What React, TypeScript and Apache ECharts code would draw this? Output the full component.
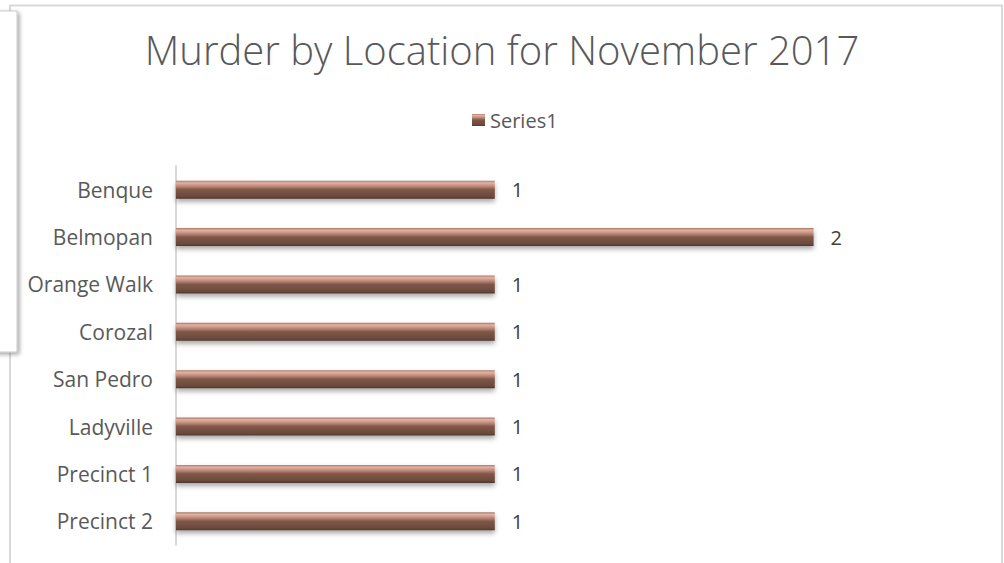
import React, { useEffect, useRef } from "react";
import * as echarts from "echarts";

const categories = ["Benque", "Belmopan", "Orange Walk", "Corozal", "San Pedro", "Ladyville", "Precinct 1", "Precinct 2"];
const values = [1, 2, 1, 1, 1, 1, 1, 1];
const seriesName = "Series1";
const titleText = "Murder by Location for November 2017";

const barFill = new echarts.graphic.LinearGradient(0, 0, 0, 1, [
  { offset: 0, color: "#a87868" },
  { offset: 0.12, color: "#e2b2a2" },
  { offset: 0.3, color: "#c08a7a" },
  { offset: 0.5, color: "#7e5748" },
  { offset: 0.88, color: "#6a4a3d" },
  { offset: 1, color: "#4e3429" },
]);

export default function App() {
  const ref = useRef<HTMLDivElement>(null);
  useEffect(() => {
    const chart = echarts.init(ref.current!, null, { renderer: "svg" });
    chart.setOption({
      animation: false,
      backgroundColor: "#ffffff",
      textStyle: { fontFamily: "Open Sans" },
      title: {
        text: titleText,
        left: "center",
        top: 24,
        textStyle: { fontSize: 40, fontWeight: 300, color: "#595959", fontFamily: "Open Sans" },
      },
      legend: {
        data: [seriesName],
        top: 105,
        left: 467,
        icon: "rect",
        itemWidth: 13,
        itemHeight: 12,
        itemGap: 6,
        textStyle: { fontSize: 20, color: "#595959", fontFamily: "Open Sans" },
      },
      grid: { left: 176, right: 31, top: 166, bottom: 18, containLabel: false },
      xAxis: { type: "value", min: 0, max: 2.5, show: false, splitLine: { show: false } },
      yAxis: {
        type: "category",
        data: categories,
        inverse: true,
        axisLine: { show: true, lineStyle: { color: "#d9d9d9", width: 2 } },
        axisTick: { show: false },
        axisLabel: { fontSize: 21, color: "#595959", margin: 23, fontFamily: "Open Sans" },
      },
      series: [
        {
          name: seriesName,
          type: "bar",
          data: values,
          barWidth: 18,
          itemStyle: {
            color: barFill,
            shadowColor: "rgba(0,0,0,0.35)",
            shadowBlur: 5,
            shadowOffsetY: 3,
          },
          label: {
            show: true,
            position: "right",
            distance: 17,
            fontSize: 20,
            color: "#404040",
            fontFamily: "Open Sans",
          },
        },
      ],
      graphic: [
        {
          type: "rect",
          shape: { x: 10, y: 5.5, width: 992, height: 600 },
          style: { fill: "none", stroke: "#d9d9d9", lineWidth: 2 },
          silent: true,
          z: -1,
        },
        {
          type: "rect",
          shape: { x: -10, y: 11, width: 27, height: 341 },
          style: {
            fill: "#ffffff",
            stroke: "#c8c8c8",
            lineWidth: 1,
            shadowColor: "rgba(0,0,0,0.35)",
            shadowBlur: 4,
            shadowOffsetX: 2,
            shadowOffsetY: 2,
          },
          silent: true,
          z: 10,
        },
      ],
    });
    return () => chart.dispose();
  }, []);
  return (
    <div style={{ position: "absolute", left: 0, top: 0, width: 1004, height: 563 }}>
      <div ref={ref} style={{ width: 1004, height: 563 }} />
    </div>
  );
}
